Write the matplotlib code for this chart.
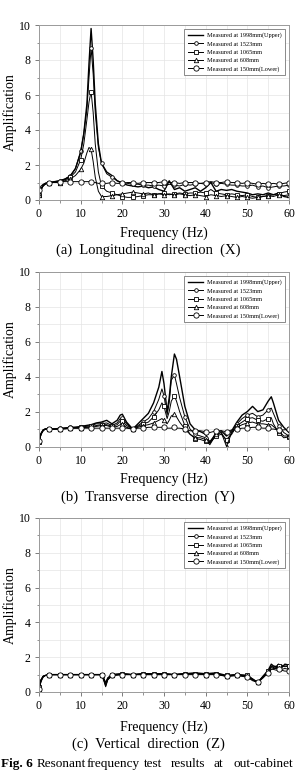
import matplotlib
matplotlib.use("Agg")
import matplotlib.pyplot as plt
from matplotlib.ticker import MultipleLocator

plt.rcParams["font.family"] = ["Liberation Serif", "DejaVu Serif"]

LABELS = [
    "Measured at 1998mm(Upper)",
    "Measured at 1523mm",
    "Measured at 1065mm",
    "Measured at 608mm",
    "Measured at 150mm(Lower)",
]

# (a) Longitudinal direction (X)
A_FREQ = [0, 0.5, 1, 1.5, 2.5, 3.75, 5, 6.25, 7.5, 8.75, 10, 10.75, 11.5, 12, 12.5,
          13, 13.5, 14.25, 15, 16.25, 17.5, 18.75, 20, 21.25, 22.5, 23.75, 25, 26.25,
          27.5, 28.75, 30, 31.25, 32.5, 33.75, 35, 36.25, 37.5, 38.75, 40, 41.25, 42.5,
          43.75, 45, 46.25, 47.5, 48.75, 50, 51.25, 52.5, 53.75, 55, 56.25, 57.5, 58.75, 60]
A_1998 = [0.2, 0.6, 0.85, 0.95, 1.0, 1.05, 1.1, 1.2, 1.35, 1.8, 2.7, 3.8, 5.5, 7.8, 9.8,
          8.0, 5.5, 3.2, 2.1, 1.6, 1.4, 1.1, 0.95, 0.85, 0.8, 0.75, 0.8, 0.7,
          0.75, 0.6, 0.5, 1.1, 0.6, 0.7, 0.5, 0.6, 0.7, 0.5, 0.7, 1.0, 0.5,
          0.6, 0.55, 0.6, 0.5, 0.45, 0.4, 0.3, 0.35, 0.3, 0.4, 0.3, 0.4, 0.2, 0.15]
A_1523 = [0.3, 0.65, 0.85, 0.95, 1.0, 1.05, 1.1, 1.2, 1.4, 1.8, 2.8, 3.8, 5.2, 7.0, 8.7,
          7.2, 5.0, 3.0, 2.1, 1.5, 1.3, 1.1, 1.0, 0.95, 0.9, 0.9, 0.85, 0.85,
          0.8, 0.85, 0.8, 0.9, 0.85, 0.8, 0.9, 0.85, 0.9, 0.95, 0.9, 1.0, 0.9,
          0.95, 0.9, 0.85, 0.85, 0.8, 0.8, 0.85, 0.75, 0.8, 0.7, 0.75, 0.8, 0.8, 0.85]
A_1065 = [0.3, 0.6, 0.8, 0.9, 1.0, 1.0, 1.05, 1.15, 1.3, 1.6, 2.3, 3.2, 4.6, 5.6, 6.2,
          5.0, 3.2, 1.6, 0.8, 0.5, 0.4, 0.3, 0.2, 0.15, 0.15, 0.2, 0.25, 0.3,
          0.3, 0.35, 0.4, 0.3, 0.35, 0.4, 0.35, 0.4, 0.4, 0.45, 0.4, 0.6, 0.4,
          0.35, 0.3, 0.35, 0.3, 0.25, 0.3, 0.2, 0.15, 0.2, 0.25, 0.3, 0.35, 0.45, 0.5]
A_608 = [0.3, 0.6, 0.8, 0.9, 1.0, 1.0, 1.0, 1.1, 1.2, 1.4, 1.75, 2.1, 2.7, 3.0, 2.9,
         2.2, 1.3, 0.5, 0.2, 0.2, 0.25, 0.3, 0.35, 0.4, 0.45, 0.4, 0.35, 0.4,
         0.3, 0.35, 0.3, 0.35, 0.3, 0.35, 0.3, 0.25, 0.3, 0.25, 0.2, 0.3, 0.25,
         0.2, 0.25, 0.2, 0.15, 0.2, 0.15, 0.1, 0.15, 0.2, 0.25, 0.2, 0.3, 0.25, 0.3]
A_150 = [0.6, 0.8, 0.9, 0.95, 1.0, 1.0, 1.05, 1.05, 1.05, 1.05, 1.05, 1.05, 1.05, 1.05, 1.05,
         1.0, 1.0, 0.95, 0.95, 0.95, 1.0, 0.95, 0.95, 1.0, 1.0, 0.95, 1.0, 1.0,
         1.0, 1.0, 1.05, 1.0, 1.0, 0.95, 1.0, 1.0, 1.0, 0.95, 1.0, 1.05, 1.0,
         1.0, 1.05, 1.0, 1.0, 0.95, 1.0, 0.95, 0.9, 0.95, 0.9, 0.95, 0.9, 0.95, 1.0]

# (b) Transverse direction (Y)
B_FREQ = [0, 0.5, 1, 1.5, 2.5, 3.75, 5, 6.25, 7.5, 8.75, 10, 11.25, 12.5, 13.75, 15,
          16.25, 17.5, 18.75, 19.5, 20, 21, 22.5, 23.75, 25, 26.25, 27.5, 28.75, 29.5,
          30, 30.75, 31.25, 31.75, 32.5, 33, 33.75, 35, 36.25, 37.5, 38.75, 40, 41,
          42.5, 43.75, 45, 46.25, 47.5, 48.75, 50, 51.25, 52.5, 53.75, 55, 55.75, 56.25,
          57.5, 58.75, 60]
B_1998 = [0.3, 0.75, 0.95, 1.0, 1.0, 1.0, 1.05, 1.05, 1.1, 1.1, 1.15, 1.2, 1.25, 1.35, 1.4,
          1.5, 1.3, 1.5, 1.8, 1.85, 1.4, 1.0, 1.3, 1.6, 1.9, 2.5, 3.4, 4.3,
          3.6, 2.0, 2.8, 4.0, 5.3, 5.0, 4.0, 2.3, 1.3, 0.95, 0.85, 0.7, 0.2,
          0.8, 0.9, 0.6, 0.9, 1.4, 1.8, 2.0, 2.3, 2.0, 2.1, 2.6, 2.85, 2.5,
          1.5, 1.1, 0.8]
B_1523 = [0.3, 0.75, 0.95, 1.0, 1.0, 1.0, 1.05, 1.05, 1.1, 1.1, 1.1, 1.15, 1.2, 1.3, 1.3,
          1.35, 1.2, 1.35, 1.6, 1.65, 1.3, 1.0, 1.2, 1.4, 1.6, 2.0, 2.7, 3.3,
          2.9, 1.8, 2.5, 3.8, 4.1, 3.6, 2.8, 1.7, 1.0, 0.7, 0.6, 0.5, 0.3,
          0.7, 0.8, 0.3, 0.8, 1.3, 1.6, 1.8, 1.9, 1.7, 1.8, 2.1, 2.2, 1.9,
          1.2, 0.8, 0.6]
B_1065 = [0.25, 0.7, 0.9, 1.0, 1.0, 1.0, 1.0, 1.05, 1.05, 1.1, 1.1, 1.1, 1.15, 1.2, 1.25,
          1.25, 1.15, 1.25, 1.45, 1.45, 1.2, 1.0, 1.15, 1.3, 1.4, 1.7, 2.1, 2.5,
          2.3, 1.6, 2.0, 2.6, 2.9, 2.6, 2.0, 1.2, 0.7, 0.45, 0.4, 0.3, 0.2,
          0.6, 0.7, 0.4, 0.7, 1.2, 1.4, 1.6, 1.65, 1.5, 1.45, 1.6, 1.65, 1.3,
          0.8, 0.5, 0.55]
B_608 = [0.3, 0.7, 0.9, 1.0, 1.0, 1.0, 1.0, 1.05, 1.05, 1.05, 1.05, 1.1, 1.1, 1.15, 1.2,
         1.2, 1.1, 1.15, 1.25, 1.3, 1.1, 1.0, 1.1, 1.2, 1.25, 1.35, 1.5, 1.6,
         1.5, 1.3, 1.5, 1.75, 1.85, 1.7, 1.4, 1.0, 0.7, 0.5, 0.5, 0.4, 0.1,
         0.7, 0.8, 0.0, 0.8, 1.1, 1.25, 1.35, 1.4, 1.3, 1.3, 1.25, 1.25, 1.15,
         0.9, 0.6, 0.6]
B_150 = [0.3, 0.75, 0.95, 1.0, 1.0, 1.0, 1.0, 1.0, 1.05, 1.05, 1.05, 1.05, 1.05, 1.05, 1.05,
         1.05, 1.05, 1.05, 1.05, 1.05, 1.05, 1.0, 1.05, 1.05, 1.1, 1.1, 1.1, 1.1,
         1.1, 1.05, 1.05, 1.05, 1.1, 1.05, 1.05, 1.0, 0.9, 0.9, 0.9, 0.85, 0.8,
         0.9, 0.9, 0.85, 0.95, 1.0, 1.05, 1.05, 1.1, 1.1, 1.05, 1.05, 1.0, 1.0,
         0.95, 0.95, 1.0]

# (c) Vertical direction (Z)
C_FREQ = [0, 0.5, 1, 1.5, 2.5, 5, 7.5, 10, 12.5, 15, 15.5, 16, 16.5, 17.5, 20, 22.5,
          25, 27.5, 30, 32.5, 35, 37.5, 40, 42.5, 45, 47.5, 50, 51.25, 52.5, 53.75,
          55, 55.75, 56.25, 57, 57.5, 58.25, 59, 60]
C_1998 = [0.2, 0.7, 0.9, 0.95, 1.0, 1.0, 1.0, 1.0, 1.0, 1.0, 0.8, 0.5, 0.8, 1.0, 1.05, 1.0,
          1.05, 1.05, 1.05, 1.0, 1.05, 1.1, 1.05, 1.1, 0.95, 1.0, 0.95, 0.75, 0.55, 0.9,
          1.25, 1.6, 1.5, 1.45, 1.6, 1.4, 1.6, 1.55]
C_1523 = [0.3, 0.7, 0.9, 0.95, 1.0, 1.0, 1.0, 1.0, 1.0, 1.0, 0.75, 0.45, 0.75, 0.95, 1.05, 1.0,
          1.05, 1.05, 1.05, 1.0, 1.05, 1.05, 1.05, 1.05, 0.9, 1.0, 0.9, 0.7, 0.55, 0.85,
          1.2, 1.5, 1.4, 1.5, 1.45, 1.55, 1.45, 1.5]
C_1065 = [0.3, 0.7, 0.9, 0.95, 1.0, 1.0, 1.0, 1.0, 1.0, 1.0, 0.8, 0.55, 0.8, 1.0, 1.05, 1.0,
          1.05, 1.05, 1.05, 1.0, 1.05, 1.05, 1.05, 1.05, 0.95, 1.0, 0.95, 0.75, 0.55, 0.9,
          1.2, 1.45, 1.45, 1.4, 1.5, 1.45, 1.5, 1.5]
C_608 = [0.2, 0.65, 0.9, 0.95, 1.0, 1.0, 1.0, 1.0, 1.0, 1.0, 0.7, 0.35, 0.7, 0.95, 1.0, 1.0,
         1.0, 1.0, 1.0, 1.0, 1.05, 1.05, 1.0, 1.05, 0.9, 0.95, 0.9, 0.7, 0.55, 0.85,
         1.15, 1.4, 1.35, 1.35, 1.4, 1.3, 1.35, 1.3]
C_150 = [0.15, 0.6, 0.85, 0.95, 1.0, 1.0, 1.0, 1.0, 1.0, 1.0, 0.7, 0.3, 0.7, 0.95, 1.0, 1.0,
         1.0, 1.0, 1.0, 1.0, 1.0, 1.0, 1.0, 1.0, 0.9, 0.95, 0.85, 0.65, 0.55, 0.8,
         1.1, 1.3, 1.3, 1.25, 1.3, 1.25, 1.2, 1.2]

# marker style per measuring height: (marker, size)
STYLES = [(None, 0), ("o", 2.6), ("s", 3.0), ("^", 3.2), ("o", 3.8)]

W, H = 295, 778


def draw_panel(fig, top_px, bottom_px, freq, series, xlabel_y, caption, caption_y):
    left, right = 39, 289
    ax = fig.add_axes([left / W, 1 - bottom_px / H, (right - left) / W,
                       (bottom_px - top_px) / H])
    marks = [i for i, f in enumerate(freq) if f % 2.5 == 0]
    for values, label, (mk, ms) in zip(series, LABELS, STYLES):
        if mk is None:
            ax.plot(freq, values, color="black", lw=1.0, label=label)
        else:
            ax.plot(freq, values, color="black", lw=0.7, marker=mk, ms=ms,
                    mfc="white", mec="black", mew=0.6, markevery=marks, label=label)
    ax.set_xlim(0, 60)
    ax.set_ylim(0, 10)
    ax.xaxis.set_major_locator(MultipleLocator(10))
    ax.xaxis.set_minor_locator(MultipleLocator(5))
    ax.yaxis.set_major_locator(MultipleLocator(2))
    ax.yaxis.set_minor_locator(MultipleLocator(1))
    ax.grid(which="both", color="#e4e4e4", lw=0.5)
    ax.set_axisbelow(True)
    for sp in ax.spines.values():
        sp.set_color("#9a9a9a")
        sp.set_linewidth(0.7)
    ax.tick_params(which="major", length=3, width=0.6, color="#666666",
                   labelsize=8.5, pad=3)
    ax.tick_params(which="minor", length=1.8, width=0.5, color="#666666")
    # y label centred about 10 px from the figure's left edge
    fig.text(10 / W, 1 - (top_px + bottom_px) / 2 / H, "Amplification",
             fontsize=10, rotation=90, ha="center", va="center")
    fig.text(164 / W, 1 - xlabel_y / H, "Frequency (Hz)", fontsize=10,
             ha="center", va="center")
    fig.text(148 / W, 1 - caption_y / H, caption, fontsize=10.5,
             ha="center", va="center")
    leg = ax.legend(loc="upper right", bbox_to_anchor=(0.985, 0.978),
                    borderaxespad=0, fontsize=4.5, frameon=True, fancybox=False,
                    edgecolor="#777777", framealpha=1, handlelength=2.4,
                    labelspacing=0.45, borderpad=0.6, handletextpad=0.6)
    leg.get_frame().set_linewidth(0.6)
    return ax


fig = plt.figure(figsize=(W / 100, H / 100), dpi=100)
fig.patch.set_facecolor("white")

draw_panel(fig, 25, 200, A_FREQ, [A_1998, A_1523, A_1065, A_608, A_150],
           233, "(a)  Longitudinal  direction  (X)", 250)
draw_panel(fig, 272, 446.5, B_FREQ, [B_1998, B_1523, B_1065, B_608, B_150],
           479, "(b)  Transverse  direction  (Y)", 497)
draw_panel(fig, 518, 692, C_FREQ, [C_1998, C_1523, C_1065, C_608, C_150],
           727, "(c)  Vertical  direction  (Z)", 744)

# figure caption, spread like a justified line
cap_y = 1 - 764 / H
fig.text(1 / W, cap_y, "Fig. 6", fontsize=9.5, weight="bold", va="center")
for word, x_px in [("Resonant", 37), ("frequency", 87), ("test", 144),
                   ("results", 171), ("at", 214), ("out-cabinet", 233)]:
    fig.text(x_px / W, cap_y, word, fontsize=9.5, va="center")

fig.savefig("out.png", dpi=100, facecolor="white")
